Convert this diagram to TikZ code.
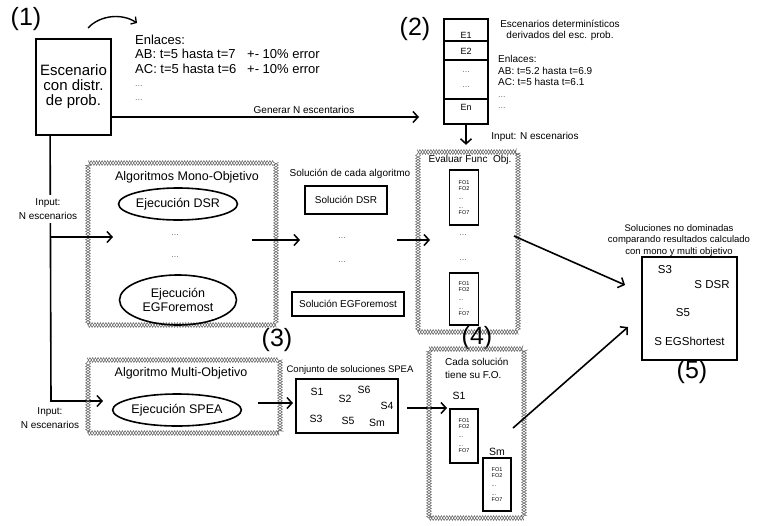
\documentclass[tikz,border=0pt]{standalone}
\usepackage{fontspec}
\setmainfont{Liberation Sans}
\usetikzlibrary{arrows.meta,shapes.geometric,decorations.pathmorphing}
\newcommand\fsz[2]{\fontsize{#1}{#2}\selectfont}
\begin{document}
\begin{tikzpicture}[x=1pt,y=-1pt,
  box/.style={draw, line width=1.8pt, inner sep=0pt},
  fobox/.style={draw, line width=1.5pt, inner sep=0pt, minimum width=29pt, align=left, font=\fsz{5.5}{6}},
  chain/.style={inner sep=0pt,
     preaction={draw=black!60, line width=0.55pt, decorate, decoration={zigzag, segment length=5.5pt, amplitude=2.4pt}},
     postaction={draw=black!60, line width=0.55pt, decorate, decoration={zigzag, segment length=5.5pt, amplitude=2.4pt, mirror}}},
  arr/.style={line width=1.6pt, line join=miter, -{Straight Barb[length=5pt,width=11pt,line width=1.5pt]}},
  ln/.style={line width=1.6pt},
  txt/.style={inner sep=0pt, align=center},
  lft/.style={inner sep=0pt, anchor=west, align=left},
  dots/.style={inner sep=0pt, text=black!55, font=\fsz{9}{10}},
  big/.style={inner sep=0pt, font=\fsz{25}{28}},
  ell/.style={ellipse, draw, line width=1.6pt, inner sep=0pt, align=center, font=\fsz{12.5}{14}},
]
\useasboundingbox (0,0) rectangle (759,525);

% ---------- (1) ----------
\node[big] (l1) at (26,19) {(1)};
\node[box, minimum width=75pt, minimum height=96pt, align=center, font=\fsz{15}{15}] (esc) at (73.5,87) {Escenario\\con distr.\\de prob.};
\coordinate (ca1) at (88,28);
\coordinate (ca2) at (137,23);
\draw[line width=1.4pt, -{Straight Barb[length=4pt,width=9pt,line width=1.3pt]}] (ca1) .. controls (100,15) and (122,13) .. (ca2);

\node[lft, font=\fsz{13}{15}] (en0) at (135,40) {Enlaces:};
\node[lft, font=\fsz{13}{15}] (en1) at (135,54) {AB: t=5 hasta t=7};
\node[lft, font=\fsz{13}{15}] (er1) at (247,54) {+- 10\% error};
\node[lft, font=\fsz{13}{15}] (en2) at (135,69) {AC: t=5 hasta t=6};
\node[lft, font=\fsz{13}{15}] (er2) at (247,69) {+- 10\% error};
\node[dots, anchor=west] (en3) at (135,86) {...};
\node[dots, anchor=west] (en4) at (135,100) {...};

\coordinate (genend) at (419,117);
\draw[arr] (esc.east |- genend) -- (genend);
\node[txt, font=\fsz{10}{12}] (gen) at (304,110) {Generar N escentarios};

% ---------- (2) ----------
\node[big] (l2) at (415,29) {(2)};
\node[box, line width=1.6pt, minimum width=44pt, minimum height=105pt] (ecol) at (466,71.5) {};
\draw[line width=1.6pt] (444,41) -- (488,41);
\draw[line width=1.6pt] (444,60) -- (488,60);
\draw[line width=1.6pt] (444,99) -- (488,99);
\node[txt, font=\fsz{9}{10}] (e1) at (466,35) {E1};
\node[txt, font=\fsz{9}{10}] (e2) at (466,51) {E2};
\node[dots] (e3) at (466,72) {...};
\node[dots] (e4) at (466,87) {...};
\node[txt, font=\fsz{9}{10}] (en) at (466,107) {En};

\node[txt, font=\fsz{10}{11}] (det) at (560,30.5) {Escenarios determinísticos\\derivados del esc. prob.};
\node[lft, font=\fsz{10}{12}] (d0) at (498,59) {Enlaces:};
\node[lft, font=\fsz{10}{12}] (d1) at (498,71) {AB: t=5.2 hasta t=6.9};
\node[lft, font=\fsz{10}{12}] (d2) at (498,82) {AC: t=5 hasta t=6.1};
\node[dots, anchor=west] (d3) at (498,97) {...};
\node[dots, anchor=west] (d4) at (498,108) {...};

% ---------- evaluation box (4, top) ----------
\node[chain, minimum width=100pt, minimum height=180pt] (eval) at (468,242) {};
\draw[arr, shorten >=7pt] (ecol.south) -- (ecol.south |- eval.north);
\node[txt, font=\fsz{10}{12}] (inp0) at (535,137) {Input: N escenarios};
\node[txt, font=\fsz{10}{12}] (evt) at (470,160) {Evaluar Func\ \ Obj.};
\node[fobox, minimum height=55pt] (fo1) at (464,197.5) {FO1\\FO2\\[3pt]...\\[3pt]...\\FO7};
\node[dots] (ev1) at (463,235) {...};
\node[dots] (ev2) at (463,260) {...};
\node[fobox, minimum height=52pt] (fo2) at (464,299) {FO1\\FO2\\[3pt]...\\[3pt]...\\FO7};

% ---------- mono-objective ----------
\node[chain, minimum width=188pt, minimum height=162pt] (mono) at (182,244) {};
\node[txt, font=\fsz{12.5}{14}] (monot) at (187,177) {Algoritmos Mono-Objetivo};
\node[ell, minimum width=117pt, minimum height=32pt] (dsr) at (178,204) {Ejecución DSR};
\node[dots] (md1) at (175,235) {...};
\node[dots] (md2) at (175,257) {...};
\node[ell, minimum width=117pt, minimum height=50pt] (egf) at (178,300) {Ejecución\\EGForemost};

\coordinate (a1s) at (252,240);
\coordinate (a1e) at (300,240);
\draw[arr] (a1s) -- (a1e);

\node[txt, font=\fsz{10}{12}] (solt) at (350,174) {Solución de cada algoritmo};
\node[box, minimum width=82pt, minimum height=28pt, font=\fsz{10}{12}] (sdsr) at (346,200) {Solución DSR};
\node[dots] (sd1) at (342,238) {...};
\node[dots] (sd2) at (342,262) {...};
\node[box, minimum width=112pt, minimum height=24pt, font=\fsz{10}{12}] (segf) at (348,304) {Solución EGForemost};

\coordinate (a3s) at (397,240);
\coordinate (a3e) at (430,240);
\draw[arr] (a3s) -- (a3e);

\node[big] (l3) at (277,340) {(3)};

% ---------- input line ----------
\coordinate (vtop) at ([xshift=15pt]esc.south west);
\coordinate (vmid) at (51,237);
\coordinate (vbot) at (51,401);
\coordinate (in1) at (113,237);
\coordinate (in2) at (103,401);
\draw[arr] (vtop) -- (vbot) -- (in2);
\draw[arr] (vmid) -- (in1);
\node[txt, fill=white, inner xsep=1pt, inner ysep=4pt, font=\fsz{10}{13.5}] (inp1) at (48,209) {Input:\\N escenarios};
\node[txt, font=\fsz{10}{13.5}] (inp2) at (50,418) {Input:\\N escenarios};

% ---------- multi-objective ----------
\node[chain, minimum width=192pt, minimum height=73pt] (multi) at (184,396.5) {};
\node[txt, font=\fsz{12.5}{14}] (multit) at (181,373) {Algoritmo Multi-Objetivo};
\node[ell, minimum width=127pt, minimum height=32pt] (spea) at (177,410) {Ejecución SPEA};

\coordinate (a2s) at (258,403);
\coordinate (a2e) at (293,403);
\draw[arr] (a2s) -- (a2e);

\node[txt, font=\fsz{9.5}{11}] (sett) at (350,370) {Conjunto de soluciones SPEA};
\node[box, minimum width=102pt, minimum height=54pt] (set) at (347,406) {};
\node[txt, font=\fsz{10.5}{12}] (s1) at (317,392) {S1};
\node[txt, font=\fsz{10.5}{12}] (s2) at (345,399) {S2};
\node[txt, font=\fsz{10.5}{12}] (s6) at (364,390) {S6};
\node[txt, font=\fsz{10.5}{12}] (s4) at (387,406) {S4};
\node[txt, font=\fsz{10.5}{12}] (s3) at (316,419) {S3};
\node[txt, font=\fsz{10.5}{12}] (s5) at (348,421) {S5};
\node[txt, font=\fsz{10.5}{12}] (sm) at (377,423) {Sm};

\coordinate (a6s) at (407,408);
\coordinate (a6e) at (447,408);
\draw[arr] (a6s) -- (a6e);

% ---------- (4) lower box ----------
\node[big] (l4) at (477,338) {(4)};
\node[chain, minimum width=95pt, minimum height=169pt] (each) at (476.5,433.5) {};
\node[lft, font=\fsz{10}{13}] (eacht) at (445,368.5) {Cada solución\\tiene su F.O.};
\node[txt, font=\fsz{10.5}{12}] (es1) at (459,396) {S1};
\node[fobox, minimum width=28pt, minimum height=54pt] (fo3) at (464,436) {FO1\\FO2\\[3pt]...\\[3pt]...\\FO7};
\node[txt, font=\fsz{10.5}{12}] (esm) at (497,452) {Sm};
\node[fobox, minimum width=28pt, minimum height=53pt] (fo4) at (497,484.5) {FO1\\FO2\\[3pt]...\\[3pt]...\\FO7};

% ---------- (5) ----------
\node[txt, font=\fsz{9.5}{11.5}] (rest) at (679,240.5) {Soluciones no dominadas\\comparando resultados calculado\\con mono y multi objetivo};
\node[box, minimum width=95pt, minimum height=103pt] (res) at (689.5,308.5) {};
\node[txt, font=\fsz{11.5}{12}] (r1) at (665,270) {S3};
\node[txt, font=\fsz{11.5}{12}] (r2) at (712,285) {S DSR};
\node[txt, font=\fsz{11.5}{12}] (r3) at (683,313) {S5};
\node[txt, font=\fsz{11.5}{12}] (r4) at (689.5,341) {S EGShortest};
\node[big] (l5) at (692,372) {(5)};

\coordinate (a4s) at (514,236);
\coordinate (a4e) at (625,285);
\draw[arr] (a4s) -- (a4e);
\coordinate (a5s) at (513,428);
\coordinate (a5e) at (628,327);
\draw[arr] (a5s) -- (a5e);
\end{tikzpicture}
\end{document}
